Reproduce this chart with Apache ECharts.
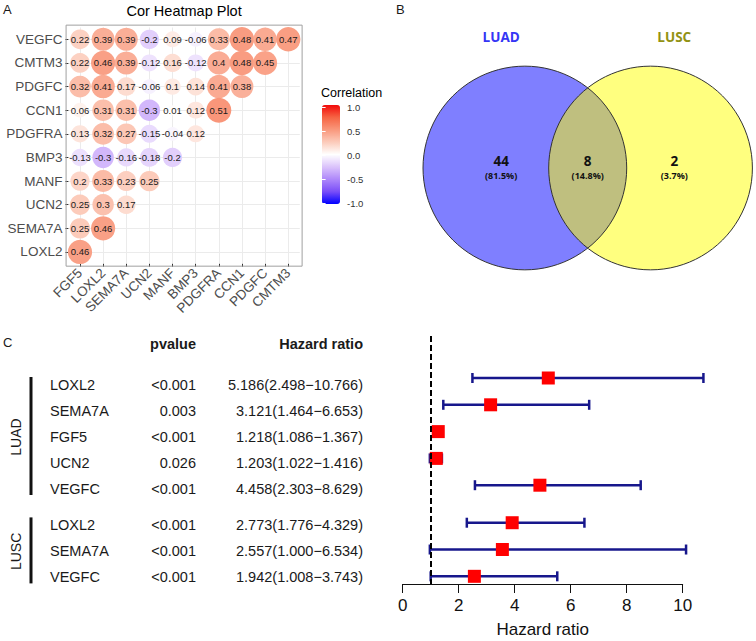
<!DOCTYPE html>
<html><head><meta charset="utf-8">
<script src="https://cdn.jsdelivr.net/npm/echarts@6/dist/echarts.min.js"></script>
<style>html,body{margin:0;padding:0;background:#fff}#c{width:756px;height:641px}</style>
</head><body><div id="c"></div>
<script>
// ---------- Panel A: correlation heatmap ----------
const heatRows = ['VEGFC','CMTM3','PDGFC','CCN1','PDGFRA','BMP3','MANF','UCN2','SEMA7A','LOXL2'];
const heatCols = ['FGF5','LOXL2','SEMA7A','UCN2','MANF','BMP3','PDGFRA','CCN1','PDGFC','CMTM3'];
const corrVEGFC  = [0.22, 0.39, 0.39, -0.2, 0.09, -0.06, 0.33, 0.48, 0.41, 0.47];
const corrCMTM3  = [0.22, 0.46, 0.39, -0.12, 0.16, -0.12, 0.4, 0.48, 0.45];
const corrPDGFC  = [0.32, 0.41, 0.17, -0.06, 0.1, 0.14, 0.41, 0.38];
const corrCCN1   = [0.06, 0.31, 0.31, -0.3, 0.01, 0.12, 0.51];
const corrPDGFRA = [0.13, 0.32, 0.27, -0.15, -0.04, 0.12];
const corrBMP3   = [-0.13, -0.3, -0.16, -0.18, -0.2];
const corrMANF   = [0.2, 0.33, 0.23, 0.25];
const corrUCN2   = [0.25, 0.3, 0.17];
const corrSEMA7A = [0.25, 0.46];
const corrLOXL2  = [0.46];
const legendTitle = 'Correlation';

// ---------- Panel B: Venn ----------
const vennSets = ['LUAD', 'LUSC'];
const vennCounts = [44, 8, 2];            // LUAD only, both, LUSC only
const vennPercents = ['81.5%', '14.8%', '3.7%'];

// ---------- Panel C: forest plot ----------
const forestGroups = ['LUAD','LUAD','LUAD','LUAD','LUAD','LUSC','LUSC','LUSC'];
const forestGenes  = ['LOXL2','SEMA7A','FGF5','UCN2','VEGFC','LOXL2','SEMA7A','VEGFC'];
const forestP      = ['<0.001','0.003','<0.001','0.026','<0.001','<0.001','<0.001','<0.001'];
const forestLabel  = ['5.186(2.498\u221210.766)','3.121(1.464\u22126.653)','1.218(1.086\u22121.367)',
                      '1.203(1.022\u22121.416)','4.458(2.303\u22128.629)','2.773(1.776\u22124.329)',
                      '2.557(1.000\u22126.534)','1.942(1.008\u22123.743)'];
// plotted positions
const forestHR   = [5.2, 3.14, 1.27, 1.2, 4.9, 3.91, 3.56, 2.56];
const forestLow  = [2.49, 1.45, 1.12, 0.97, 2.58, 2.29, 0.97, 1.0];
const forestHigh = [10.74, 6.66, 1.40, 1.40, 8.5, 6.49, 10.12, 5.52];

// ================= build =================
const heatCorr = [corrVEGFC, corrCMTM3, corrPDGFC, corrCCN1, corrPDGFRA, corrBMP3, corrMANF, corrUCN2, corrSEMA7A, corrLOXL2];
const heatData = [];
heatCorr.forEach((row, r) => row.forEach((v, c) => heatData.push([c, r, v])));
const absVals = heatData.map(d => Math.abs(d[2]));
const aMin = Math.min(...absVals), aMax = Math.max(...absVals);
const maxDiam = 25;
const circleSize = v => maxDiam * (4 + 6 * Math.sqrt((Math.abs(v) - aMin) / (aMax - aMin))) / 10;

const HM = {left: 68.4, top: 27.5, width: 231.4, height: 236.3};
const cellW = HM.width / heatCols.length, cellH = HM.height / heatRows.length;

const corrColors = ['#0000FF','#7A4EF8','#AE88FA','#DBC3FB','#FFFFFF','#FCCBBA','#F9987C','#F66443','#F20A0A'];

// row layout (gap between groups)
const rowPos = [];
{ let gap = 0; forestGroups.forEach((g, i) => { if (i > 0 && g !== forestGroups[i-1]) gap += 0.4; rowPos.push(i + gap); }); }

const TABLE = {y0: 385, step: 26, nameX: 50, pX: 196, hrX: 363, headerY: 343.5, barX: 31, labX: 16};
const tY = p => TABLE.y0 + p * TABLE.step;
const FP = {left: 402.7, width: 280, top: 336, bottom: 584, row0: 378, step: 26.8};

const forestCI = forestLow.map((lo, i) => [lo, forestHigh[i], rowPos[i]]);
const forestPts = forestHR.map((h, i) => [h, rowPos[i]]);

const VENN = {left: 422.7, width: 330, top: 5, height: 326, xr: 1.62, yr: 1.6, d: 0.617, r: 1, lx: 0.85, ly: 1.283};
const vennFill = ['rgba(0,0,255,0.5)', 'rgba(255,255,0,0.5)'];
const vennNameColor = ['#3535F5', '#929214'];

const font = '"Liberation Sans", Arial, sans-serif';
const txt = (text, x, y, o) => Object.assign({type: 'text', x: x, y: y, silent: true,
  style: Object.assign({text: text, font: '14.5px ' + font, fill: '#1a1a1a', textAlign: 'left', textVerticalAlign: 'middle'}, o || {})});

const graphics = [];
graphics.push(txt('A', 3, 9, {font: '13px ' + font}));
graphics.push(txt('B', 396, 9, {font: '13px ' + font}));
graphics.push(txt('C', 3, 342, {font: '13px ' + font}));
graphics.push(txt('Cor Heatmap Plot', HM.left + HM.width / 2, 11, {font: '14.5px ' + font, textAlign: 'center', fill: '#000'}));
graphics.push(txt(legendTitle, 321, 92.5, {font: '12.5px ' + font, fill: '#000'}));
// heatmap panel border (ggplot discrete expansion 0.6)
graphics.push({type: 'rect', silent: true, z: 1,
  shape: {x: HM.left - 0.1 * cellW, y: HM.top - 0.1 * cellH, width: HM.width + 0.2 * cellW, height: HM.height + 0.2 * cellH},
  style: {fill: 'none', stroke: '#a0a0a0', lineWidth: 1}});
// table headers
graphics.push(txt('pvalue', TABLE.pX, TABLE.headerY, {font: 'bold 14.5px ' + font, textAlign: 'right'}));
graphics.push(txt('Hazard ratio', TABLE.hrX, TABLE.headerY, {font: 'bold 14.5px ' + font, textAlign: 'right'}));
forestGenes.forEach((g, i) => {
  const y = tY(rowPos[i]);
  graphics.push(txt(g, TABLE.nameX, y));
  graphics.push(txt(forestP[i], TABLE.pX, y, {textAlign: 'right'}));
  graphics.push(txt(forestLabel[i], TABLE.hrX, y, {textAlign: 'right'}));
});
// group brackets
[...new Set(forestGroups)].forEach(g => {
  const idx = forestGroups.map((x, i) => x === g ? i : -1).filter(i => i >= 0);
  const y1 = tY(rowPos[idx[0]]) - 8, y2 = tY(rowPos[idx[idx.length - 1]]) + 6;
  graphics.push({type: 'rect', silent: true, shape: {x: TABLE.barX - 1.5, y: y1, width: 3, height: y2 - y1}, style: {fill: '#111'}});
  graphics.push(Object.assign(txt(g, TABLE.labX, (y1 + y2) / 2 + 1, {font: '14px ' + font, textAlign: 'center'}), {rotation: Math.PI / 2}));
});

const option = {
  animation: false,
  backgroundColor: '#fff',
  textStyle: {fontFamily: font},
  grid: [
    {left: HM.left, top: HM.top, width: HM.width, height: HM.height, show: false},
    {left: 322, top: 107, width: 18, height: 96, show: false},
    {left: VENN.left, top: VENN.top, width: VENN.width, height: VENN.height, show: false},
    {left: FP.left, top: FP.top, width: FP.width, height: FP.bottom - FP.top, show: false}
  ],
  xAxis: [
    {gridIndex: 0, type: 'category', data: heatCols, boundaryGap: true,
     axisLine: {show: false},
     axisTick: {show: true, alignWithLabel: true, length: 3, lineStyle: {color: '#333'}},
     splitLine: {show: true, alignWithLabel: true, lineStyle: {color: '#EBEBEB', width: 1}},
     axisLabel: {interval: 0, rotate: 45, fontSize: 13.5, color: '#4D4D4D', margin: 7, fontFamily: font}},
    {gridIndex: 1, type: 'value', min: 0, max: 1, show: false},
    {gridIndex: 2, type: 'value', min: -VENN.xr, max: VENN.xr, show: false},
    {gridIndex: 3, type: 'value', min: 0, max: 10, interval: 2,
     axisLine: {show: true, onZero: false, lineStyle: {color: '#111', width: 1}},
     axisTick: {show: true, length: 9, lineStyle: {color: '#111', width: 1}},
     splitLine: {show: false},
     axisLabel: {fontSize: 17, color: '#111', margin: 13, fontFamily: font},
     name: 'Hazard ratio', nameLocation: 'middle', nameGap: 37,
     nameTextStyle: {fontSize: 17, color: '#111', fontFamily: font}}
  ],
  yAxis: [
    {gridIndex: 0, type: 'category', data: heatRows, inverse: true, boundaryGap: true,
     axisLine: {show: false},
     axisTick: {show: true, alignWithLabel: true, length: 3, lineStyle: {color: '#333'}},
     splitLine: {show: true, alignWithLabel: true, lineStyle: {color: '#EBEBEB', width: 1}},
     axisLabel: {interval: 0, fontSize: 13.5, color: '#4D4D4D', margin: 6, fontFamily: font}},
    {gridIndex: 1, type: 'value', min: -1, max: 1, interval: 0.5, position: 'right', z: 10,
     axisLine: {show: false}, splitLine: {show: false},
     axisTick: {show: true, inside: true, length: 3.6, lineStyle: {color: '#fff', width: 1}},
     axisLabel: {fontSize: 9.5, color: '#333', margin: 7, formatter: v => v.toFixed(1), fontFamily: font}},
    {gridIndex: 1, type: 'value', min: -1, max: 1, interval: 0.5, position: 'left', z: 10,
     axisLine: {show: false}, splitLine: {show: false}, axisLabel: {show: false},
     axisTick: {show: true, inside: true, length: 3.6, lineStyle: {color: '#fff', width: 1}}},
    {gridIndex: 2, type: 'value', min: -VENN.yr, max: VENN.yr, show: false},
    {gridIndex: 3, type: 'value', inverse: true,
     min: (FP.top - FP.row0) / FP.step, max: (FP.bottom - FP.row0) / FP.step, show: false}
  ],
  visualMap: {
    type: 'continuous', min: -1, max: 1, seriesIndex: 0, dimension: 2,
    inRange: {color: corrColors}, calculable: false, hoverLink: false,
    left: 322, top: 105, itemWidth: 18, itemHeight: 99, padding: 0, text: null, showLabel: false
  },
  graphic: {elements: graphics},
  series: [
    {type: 'scatter', xAxisIndex: 0, yAxisIndex: 0, data: heatData, z: 3,
     symbolSize: v => circleSize(v[2]),
     itemStyle: {opacity: 1},
     label: {show: true, position: 'inside', formatter: p => String(p.value[2]), fontSize: 9.5, color: '#1a1a1a', fontFamily: font},
     emphasis: {disabled: true}},
    {type: 'custom', xAxisIndex: 2, yAxisIndex: 3, coordinateSystem: 'cartesian2d',
     data: vennSets.map((s, i) => [i === 0 ? -VENN.d : VENN.d, 0, VENN.r]),
     renderItem: (params, api) => {
       const c = api.coord([api.value(0), api.value(1)]);
       const r = api.size([api.value(2), 0])[0];
       return {type: 'circle', shape: {cx: c[0], cy: c[1], r: r}, style: {fill: vennFill[params.dataIndex], stroke: 'none'}};
     }},
    {type: 'custom', xAxisIndex: 2, yAxisIndex: 3, coordinateSystem: 'cartesian2d', z: 3,
     data: vennSets.map((s, i) => [i === 0 ? -VENN.d : VENN.d, 0, VENN.r]),
     renderItem: (params, api) => {
       const c = api.coord([api.value(0), api.value(1)]);
       const r = api.size([api.value(2), 0])[0];
       return {type: 'circle', shape: {cx: c[0], cy: c[1], r: r}, style: {fill: 'none', stroke: '#333', lineWidth: 1}};
     }},
    {type: 'custom', xAxisIndex: 2, yAxisIndex: 3, coordinateSystem: 'cartesian2d', z: 4,
     data: vennCounts.map((n, i) => [(i - 1) * VENN.lx, 0, n]),
     renderItem: (params, api) => {
       const c = api.coord([api.value(0), api.value(1)]);
       const i = params.dataIndex;
       const ch = [
         {type: 'text', x: c[0], y: c[1] - 7, style: {text: String(vennCounts[i]), font: 'bold 13.5px "Open Sans", sans-serif', fill: '#111', textAlign: 'center', textVerticalAlign: 'middle'}},
         {type: 'text', x: c[0], y: c[1] + 7, style: {text: '(' + vennPercents[i] + ')', font: 'bold 9px "Open Sans", sans-serif', fill: '#111', textAlign: 'center', textVerticalAlign: 'middle'}}
       ];
       if (i !== 1) {
         const s = i === 0 ? 0 : 1;
         const t = api.coord([api.value(0), VENN.ly]);
         ch.push({type: 'text', x: t[0], y: t[1], style: {text: vennSets[s], font: 'bold 13.5px "Open Sans", sans-serif', fill: vennNameColor[s], textAlign: 'center', textVerticalAlign: 'middle'}});
       }
       return {type: 'group', children: ch};
     }},
    {type: 'custom', xAxisIndex: 3, yAxisIndex: 4, coordinateSystem: 'cartesian2d', z: 3,
     data: forestCI, encode: {x: [0, 1], y: 2},
     renderItem: (params, api) => {
       const lo = api.coord([api.value(0), api.value(2)]);
       const hi = api.coord([api.value(1), api.value(2)]);
       const cap = 5;
       const st = {stroke: '#17178C', lineWidth: 2.5};
       return {type: 'group', children: [
         {type: 'line', shape: {x1: lo[0], y1: lo[1], x2: hi[0], y2: hi[1]}, style: st},
         {type: 'line', shape: {x1: lo[0], y1: lo[1] - cap, x2: lo[0], y2: lo[1] + cap}, style: st},
         {type: 'line', shape: {x1: hi[0], y1: hi[1] - cap, x2: hi[0], y2: hi[1] + cap}, style: st}
       ]};
     }},
    {type: 'scatter', xAxisIndex: 3, yAxisIndex: 4, data: forestPts, z: 4,
     symbol: 'rect', symbolSize: 13, itemStyle: {color: '#FF0000', opacity: 1},
     emphasis: {disabled: true},
     markLine: {silent: true, symbol: 'none', label: {show: false},
       lineStyle: {color: '#000', width: 2, type: [6, 3]},
       data: [{xAxis: 1}]}}
  ]
};
const chart = echarts.init(document.getElementById('c'), null, {renderer: 'svg'});
chart.setOption(option);
</script></body></html>
